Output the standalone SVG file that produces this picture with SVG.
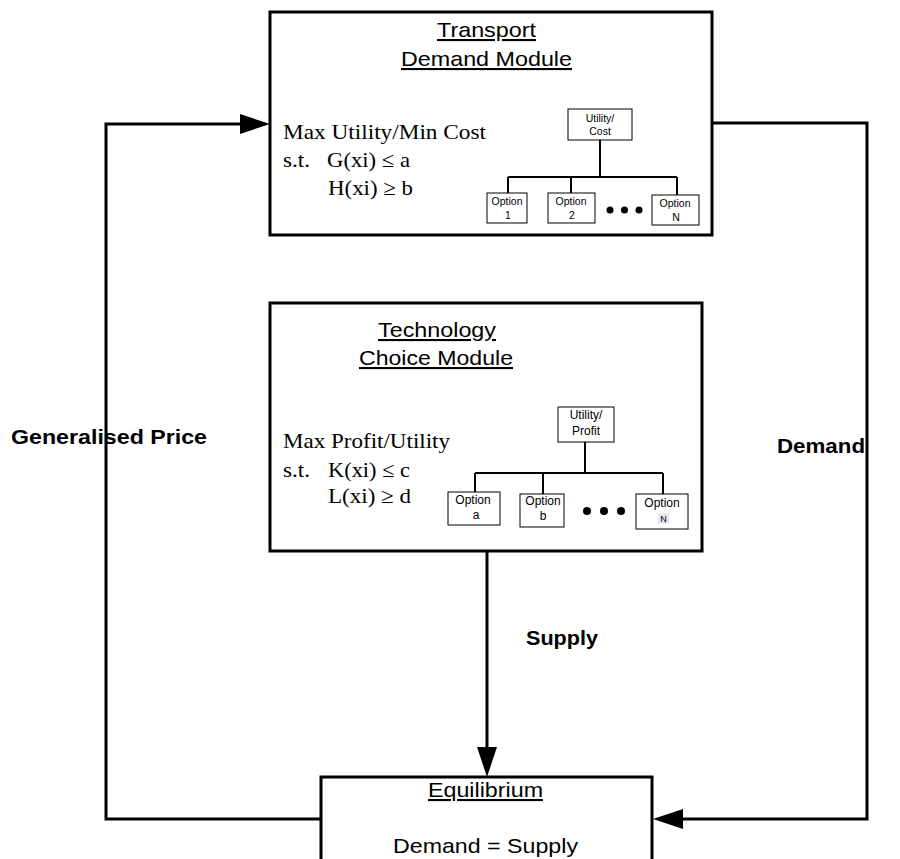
<svg xmlns="http://www.w3.org/2000/svg" width="900" height="859" viewBox="0 0 900 859">
  <style>
    .box { fill: #fff; stroke: #000; stroke-width: 3; }
    .sbox { fill: #fff; stroke: #000; stroke-width: 1; }
    .tree { fill: none; stroke: #000; stroke-width: 2; }
    .wire { fill: none; stroke: #000; stroke-width: 3; }
    .title { font-family: "Liberation Sans", Arial, sans-serif; font-size: 21px; text-decoration: underline; }
    .plain { font-family: "Liberation Sans", Arial, sans-serif; font-size: 21px; }
    .math { font-family: "Liberation Serif", "Times New Roman", serif; font-size: 21.5px; }
    .lbl { font-family: "Liberation Sans", Arial, sans-serif; font-size: 20px; font-weight: bold; }
    .s10 { font-family: "Liberation Sans", Arial, sans-serif; font-size: 10.5px; text-anchor: middle; }
    .s12 { font-family: "Liberation Sans", Arial, sans-serif; font-size: 12px; text-anchor: middle; }
    .s9 { font-family: "Liberation Sans", Arial, sans-serif; font-size: 9px; text-anchor: middle; }
  </style>
  <defs>
    <marker id="arrow" viewBox="0 0 30 20" refX="0" refY="10" markerWidth="30" markerHeight="20" markerUnits="userSpaceOnUse" orient="auto">
      <path d="M0,0 L30,10 L0,20 z" fill="#000"/>
    </marker>
  </defs>

  <!-- connectors between the modules -->
  <g id="connectors">
    <path class="wire" d="M321,819 H106 V124 H240" marker-end="url(#arrow)"/>
    <path class="wire" d="M711,123 H867 V819 H683" marker-end="url(#arrow)"/>
    <path class="wire" d="M487,551 V747" marker-end="url(#arrow)"/>
  </g>

  <!-- flow labels -->
  <g id="labels">
    <text class="lbl" x="11" y="444" textLength="196" lengthAdjust="spacingAndGlyphs">Generalised Price</text>
    <text class="lbl" x="777" y="453" textLength="88" lengthAdjust="spacingAndGlyphs">Demand</text>
    <text class="lbl" x="526" y="645" textLength="72" lengthAdjust="spacingAndGlyphs">Supply</text>
  </g>

  <!-- transport demand module -->
  <g id="transport">
    <rect class="box" x="270" y="12" width="442" height="223"/>
    <text class="title" x="437" y="37" textLength="99" lengthAdjust="spacingAndGlyphs">Transport</text>
    <text class="title" x="401" y="66" textLength="171" lengthAdjust="spacingAndGlyphs">Demand Module</text>
    <text class="math" x="283" y="139" textLength="203" lengthAdjust="spacingAndGlyphs">Max Utility/Min Cost</text>
    <text class="math" x="283" y="167" textLength="27" lengthAdjust="spacingAndGlyphs">s.t.</text>
    <text class="math" x="327" y="167" textLength="83" lengthAdjust="spacingAndGlyphs">G(xi) ≤ a</text>
    <text class="math" x="328" y="195" textLength="85" lengthAdjust="spacingAndGlyphs">H(xi) ≥ b</text>
    <!-- choice tree -->
    <path class="tree" d="M600,140 V177 M508,177 H677 M508,177 V193 M571,177 V193 M677,177 V195"/>
    <rect class="sbox" x="568" y="109" width="64" height="31"/>
    <text class="s10" x="600" y="122">Utility/</text>
    <text class="s10" x="600" y="135">Cost</text>
    <rect class="sbox" x="487" y="193" width="40" height="30"/>
    <text class="s10" x="507" y="205">Option</text>
    <text class="s10" x="508" y="219">1</text>
    <rect class="sbox" x="548" y="193" width="47" height="30"/>
    <text class="s10" x="571" y="205">Option</text>
    <text class="s10" x="572" y="219">2</text>
    <circle cx="610" cy="210" r="3.5"/>
    <circle cx="624.5" cy="210" r="3.5"/>
    <circle cx="639" cy="210" r="3.5"/>
    <rect class="sbox" x="652" y="195" width="47" height="30"/>
    <text class="s10" x="675" y="207">Option</text>
    <text class="s10" x="676" y="221">N</text>
  </g>

  <!-- technology choice module -->
  <g id="technology">
    <rect class="box" x="270" y="303" width="432" height="248"/>
    <text class="title" x="378" y="337" textLength="118" lengthAdjust="spacingAndGlyphs">Technology</text>
    <text class="title" x="359" y="365" textLength="154" lengthAdjust="spacingAndGlyphs">Choice Module</text>
    <text class="math" x="283" y="448" textLength="167" lengthAdjust="spacingAndGlyphs">Max Profit/Utility</text>
    <text class="math" x="283" y="477" textLength="27" lengthAdjust="spacingAndGlyphs">s.t.</text>
    <text class="math" x="328" y="477" textLength="82" lengthAdjust="spacingAndGlyphs">K(xi) ≤ c</text>
    <text class="math" x="328" y="503" textLength="83" lengthAdjust="spacingAndGlyphs">L(xi) ≥ d</text>
    <!-- choice tree -->
    <path class="tree" d="M585,442 V473 M475,473 H663 M475,473 V492 M543,473 V494 M663,473 V494"/>
    <rect class="sbox" x="558" y="407" width="56" height="35"/>
    <text class="s12" x="586" y="419">Utility/</text>
    <text class="s12" x="586" y="435">Profit</text>
    <rect class="sbox" x="448" y="492" width="52" height="33"/>
    <text class="s12" x="473" y="504">Option</text>
    <text class="s12" x="476" y="519">a</text>
    <rect class="sbox" x="520" y="494" width="44" height="33"/>
    <text class="s12" x="543" y="505">Option</text>
    <text class="s12" x="543" y="520">b</text>
    <circle cx="587" cy="511" r="4"/>
    <circle cx="604" cy="511" r="4"/>
    <circle cx="621" cy="511" r="4"/>
    <rect class="sbox" x="636" y="494" width="52" height="35"/>
    <text class="s12" x="662" y="507">Option</text>
    <rect x="658" y="513" width="11" height="11" fill="#e4eaf4"/>
    <text class="s9" x="663.5" y="522">N</text>
  </g>

  <!-- equilibrium module -->
  <g id="equilibrium">
    <rect class="box" x="321" y="777" width="331" height="100"/>
    <text class="title" x="428" y="797" textLength="115" lengthAdjust="spacingAndGlyphs">Equilibrium</text>
    <text class="plain" x="393" y="853" textLength="185" lengthAdjust="spacingAndGlyphs">Demand = Supply</text>
  </g>
</svg>
